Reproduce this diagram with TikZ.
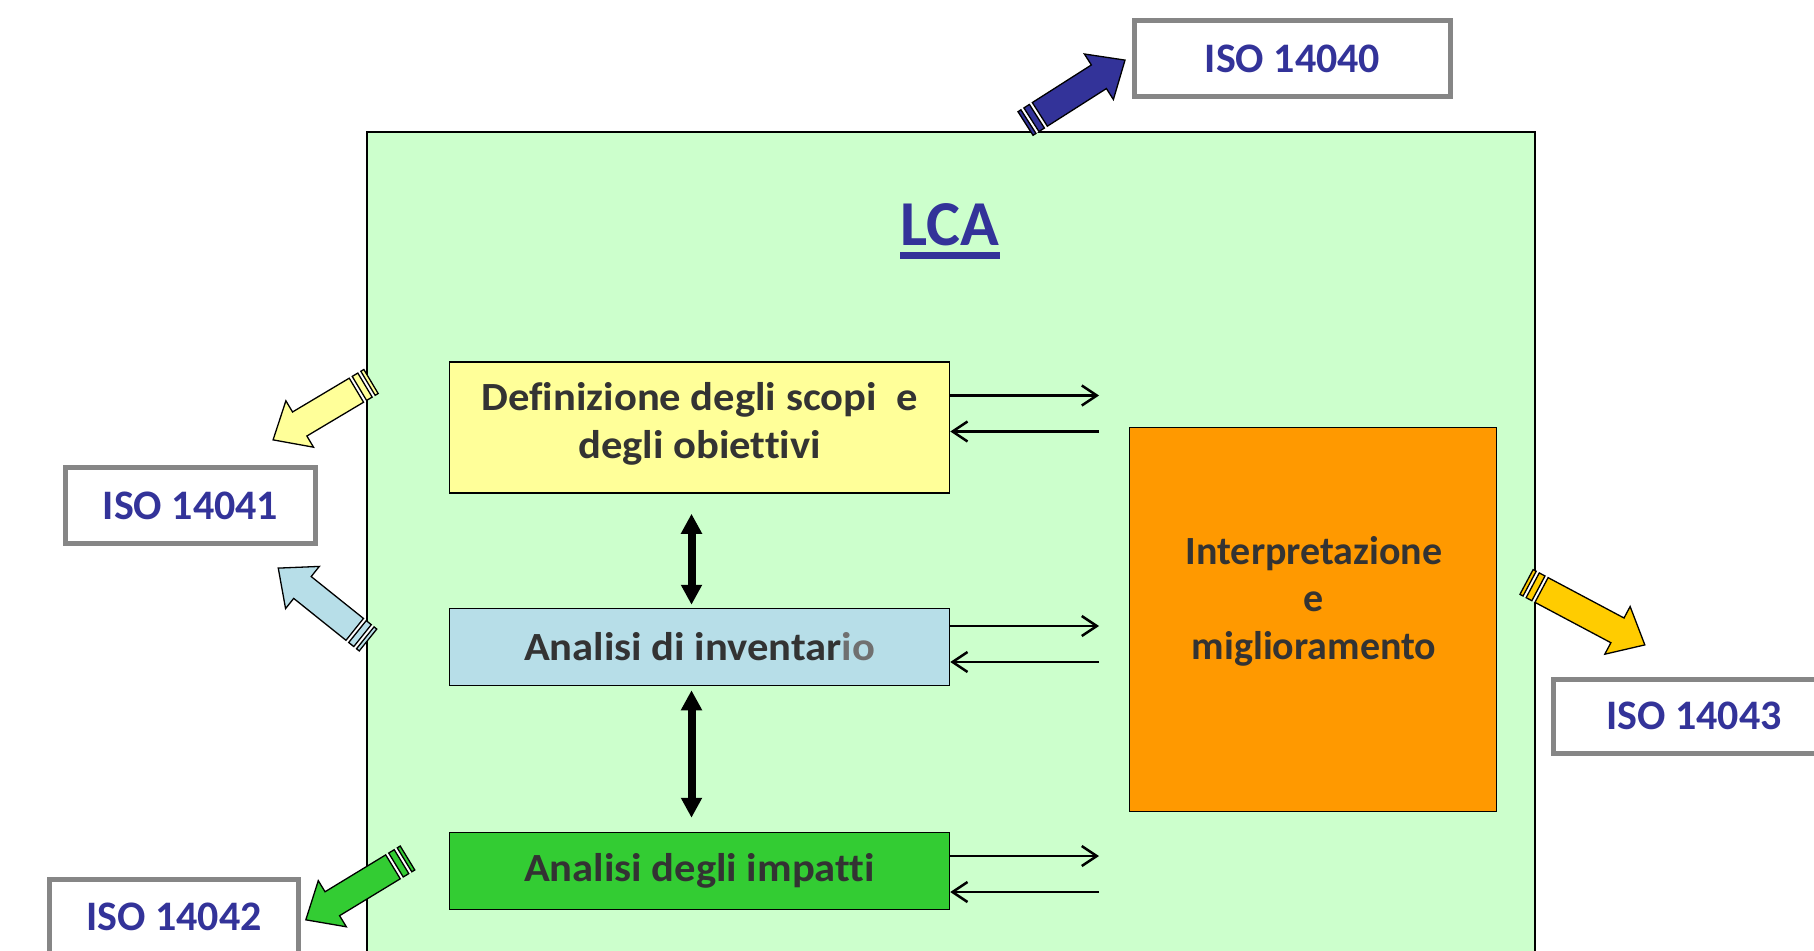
\documentclass[tikz,border=0pt]{standalone}
\usepackage{fontspec}
\setmainfont{Carlito}[Ligatures=NoCommon]
\newfontfamily\boxfont{Carlito}[Ligatures=NoCommon,FakeStretch=1.065]
\usetikzlibrary{arrows.meta,calc}
\definecolor{lcagreen}{HTML}{CCFFCC}
\definecolor{isoblue}{HTML}{333399}
\definecolor{txtgray}{HTML}{333333}
\definecolor{iogray}{HTML}{707070}
\definecolor{boxyellow}{HTML}{FFFF99}
\definecolor{boxblue}{HTML}{B7DEE8}
\definecolor{boxgreen}{HTML}{33CC33}
\definecolor{boxorange}{HTML}{FF9900}
\definecolor{isogray}{HTML}{868686}
\definecolor{arrgold}{HTML}{FFCC00}
\newcommand\stripedarrow[4]{% #1 tail coordinate, #2 angle, #3 length, #4 fill
  \begin{scope}[shift={(#1)}, rotate=#2]
    \fill[white] (0,-14) rectangle (17,14);
    \draw[fill=#4, line width=1.3pt, line join=miter]
      (17,-14) -- (#3-31,-14) -- (#3-31,-27) -- (#3,0) -- (#3-31,27) -- (#3-31,14) -- (17,14) -- cycle;
    \draw[fill=#4, line width=1.3pt] (0,-14) rectangle (3.5,14);
    \draw[fill=#4, line width=1.3pt] (7,-14) rectangle (13.5,14);
  \end{scope}}
\begin{document}
\begin{tikzpicture}[x=1pt,y=-1pt,
  procbox/.style={draw=black, line width=1.5pt, minimum width=500pt, inner sep=0pt,
    font=\boxfont\fontsize{40}{48}\selectfont\bfseries, text=txtgray, align=center},
  isobox/.style={draw=isogray, line width=5pt, fill=white, inner sep=0pt,
    font=\fontsize{42}{50}\selectfont\bfseries, text=isoblue},
  thinarrow/.style={line width=2.5pt, -{Straight Barb[length=15pt,width=20pt,line width=2.5pt]}},
  dblarrow/.style={line width=8pt, {Triangle[length=20pt,width=20pt]}-{Triangle[length=20pt,width=20pt]}}
]
\useasboundingbox (0,0) rectangle (1814,950);
\clip (0,0) rectangle (1814,950);

% main LCA frame
\node[draw=black, line width=1.5pt, fill=lcagreen, minimum width=1168pt, minimum height=860pt,
  inner sep=0pt, anchor=north west] (lca) at (366,131) {};

% title
\node[inner sep=0pt, anchor=base, font=\fontsize{64}{64}\selectfont\bfseries, text=isoblue] (title) at (950,245) {LCA};
\draw[isoblue, line width=7pt] ($(title.base west)+(0,10.5)$) -- ($(title.base east)+(0,10.5)$);

% phase boxes
\node[procbox, fill=boxyellow, minimum height=131pt] (def) at (699.5,427.5) {};
\node[inner sep=0pt, align=center, font=\boxfont\fontsize{40}{48}\selectfont\bfseries, text=txtgray] (defT) at (699.5,424) {Definizione degli scopi\ \ e\\degli obiettivi};
\node[procbox, fill=boxblue, minimum height=77pt] (inv) at (699.5,647) {Analisi di inventar\textcolor{iogray}{io}};
\node[procbox, fill=boxgreen, minimum height=77pt] (imp) at (699.5,871) {Analisi degli impatti};
\node[draw=black, line width=1.5pt, fill=boxorange, minimum width=367pt, minimum height=384pt, inner sep=0pt] (interp) at (1313,619.5) {};
\node[inner sep=0pt, align=center, font=\fontsize{40}{47.5}\selectfont\bfseries, text=txtgray] (interpT) at (1314,601) {Interpretazione\\e\\miglioramento};

% thin arrow pairs
\coordinate (d1) at (1099,395.5);
\coordinate (d2) at (1099,431.5);
\coordinate (i1) at (1099,626);
\coordinate (i2) at (1099,662);
\coordinate (m1) at (1099,856);
\coordinate (m2) at (1099,892);
\draw[thinarrow] (def.east |- d1) -- (d1);
\draw[thinarrow] (d2) -- (def.east |- d2);
\draw[thinarrow] (inv.east |- i1) -- (i1);
\draw[thinarrow] (i2) -- (inv.east |- i2);
\draw[thinarrow] (imp.east |- m1) -- (m1);
\draw[thinarrow] (m2) -- (imp.east |- m2);

% vertical double arrows
\draw[dblarrow] ($(def.south)+(-8,20)$) -- ($(inv.north)+(-8,-3)$);
\draw[dblarrow] ($(inv.south)+(-8,4)$) -- ($(imp.north)+(-8,-14)$);

% ISO boxes
\node[isobox, minimum width=316pt, minimum height=76pt] (iso40) at (1292.5,58.5) {ISO 14040};
\node[isobox, minimum width=250pt, minimum height=76pt] (iso41) at (190.5,505.5) {ISO 14041};
\node[isobox, minimum width=249pt, minimum height=76pt] (iso42) at (174,917) {ISO 14042};
\node[isobox, minimum width=281pt, minimum height=74pt] (iso43) at (1694,716) {ISO 14043};

% striped block arrows
\coordinate (t40) at (1025.5,123.5);
\coordinate (t41a) at (371,381.5);
\coordinate (t41b) at (368,640);
\coordinate (t42) at (407.5,858);
\coordinate (t43) at (1526.5,582);
\stripedarrow{t40}{32.5}{118}{isoblue}
\stripedarrow{t41a}{210.8}{114}{boxyellow}
\stripedarrow{t41b}{141.3}{115}{boxblue}
\stripedarrow{t42}{211.3}{119}{boxgreen}
\stripedarrow{t43}{-28}{134}{arrgold}
\end{tikzpicture}
\end{document}
